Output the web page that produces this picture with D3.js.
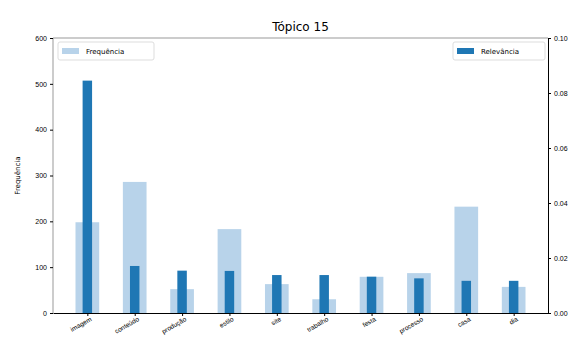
<!DOCTYPE html>
<html><head><meta charset="utf-8">
<script src="https://cdn.jsdelivr.net/npm/d3@7"></script>
<style>body{margin:0;background:#fff}svg{display:block;font-family:"DejaVu Sans",sans-serif}</style>
</head><body><svg id="c" width="572" height="338"></svg>
<script>
const categories = ["imagem","conteúdo","produção","estilo","site","trabalho","festa","processo","casa","dia"];
const frequencia = [198, 286, 52, 183, 63, 30, 79, 87, 232, 57];
const relevancia = [0.0845, 0.0171, 0.0154, 0.0153, 0.0138, 0.0138, 0.0132, 0.0126, 0.0117, 0.0117];
const leftTicks = [0,100,200,300,400,500,600];
const rightTicks = [0,0.02,0.04,0.06,0.08,0.10];

const svg = d3.select("#c");
const L=53, R=548, T=38, B=313;
const x = d3.scaleLinear().domain([-0.725, 9.725]).range([L,R]);
const yL = d3.scaleLinear().domain([0,600]).range([B,T]);
const yR = d3.scaleLinear().domain([0,0.10]).range([B,T]);
const unit = x(1)-x(0);

svg.append("g").selectAll("rect").data(frequencia).join("rect")
  .attr("x",(d,i)=>x(i)-unit*0.25).attr("width",unit*0.5)
  .attr("y",d=>yL(d)).attr("height",d=>B-yL(d)).attr("fill","#b8d3ea");
svg.append("g").selectAll("rect").data(relevancia).join("rect")
  .attr("x",(d,i)=>x(i)-unit*0.1).attr("width",unit*0.2)
  .attr("y",d=>yR(d)).attr("height",d=>B-yR(d)).attr("fill","#1f77b4");

// spines
svg.append("line").attr("x1",L).attr("x2",L).attr("y1",T).attr("y2",B).attr("stroke","#999").attr("stroke-width",1);
svg.append("line").attr("x1",L).attr("x2",R).attr("y1",T).attr("y2",T).attr("stroke","#999").attr("stroke-width",1);

const ax = svg.append("g").attr("transform",`translate(0,${B})`)
  .call(d3.axisBottom(x).tickValues(d3.range(10)).tickFormat(i=>categories[i]).tickSize(3).tickSizeOuter(0));
ax.select(".domain").attr("stroke","#000");
ax.selectAll(".tick line").attr("stroke","#000");
ax.selectAll("text").attr("font-size",6.5).attr("fill","#000").attr("text-anchor","end")
  .attr("y",4).attr("dy","0.71em")
  .attr("transform","rotate(-30)");

const al = svg.append("g").attr("transform",`translate(${L},0)`)
  .call(d3.axisLeft(yL).tickValues(leftTicks).tickSize(3).tickSizeOuter(0));
al.select(".domain").remove();
al.selectAll(".tick line").attr("stroke","#000");
al.selectAll("text").attr("font-size",7).attr("fill","#000");

const ar = svg.append("g").attr("transform",`translate(${R},0)`)
  .call(d3.axisRight(yR).tickValues(rightTicks).tickFormat(d3.format(".2f")).tickSize(3).tickSizeOuter(0));
ar.select(".domain").attr("stroke","#000");
ar.selectAll(".tick line").attr("stroke","#000");
ar.selectAll("text").attr("font-size",7).attr("fill","#000");

svg.append("text").attr("x",(L+R)/2).attr("y",31).attr("text-anchor","middle")
  .attr("font-size",12).text("Tópico 15");
svg.append("text").attr("transform",`translate(20,${(T+B)/2}) rotate(-90)`)
  .attr("text-anchor","middle").attr("font-size",7).text("Frequência");

// legends
function legend(x0,w,color,label){
  const g=svg.append("g");
  g.append("rect").attr("x",x0).attr("y",42).attr("width",w).attr("height",18).attr("rx",2)
    .attr("fill","#fff").attr("fill-opacity",0.8).attr("stroke","#ddd");
  g.append("rect").attr("x",x0+4).attr("y",48).attr("width",17).attr("height",6).attr("fill",color);
  g.append("text").attr("x",x0+28).attr("y",54).attr("font-size",7).text(label);
}
legend(58,96,"#b8d3ea","Frequência");
legend(453,92,"#1f77b4","Relevância");
</script></body></html>
